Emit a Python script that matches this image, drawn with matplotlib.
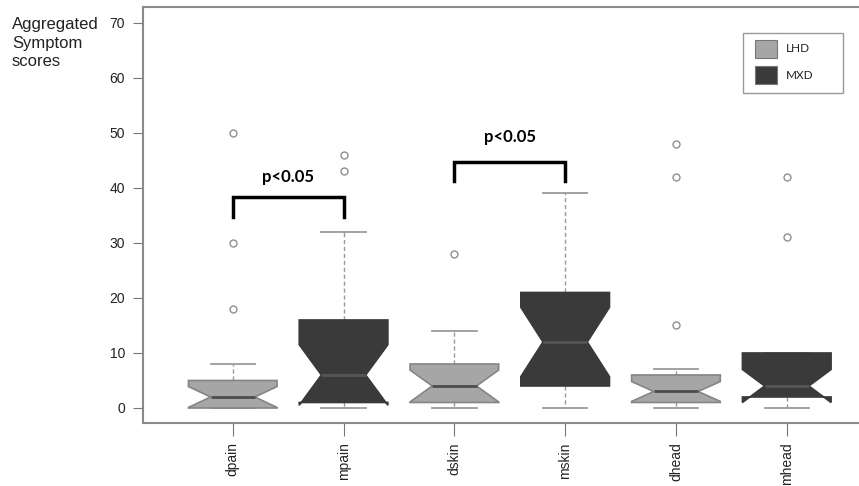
import matplotlib
matplotlib.use("Agg")
import matplotlib.pyplot as plt
from matplotlib.patches import Rectangle

# Symptom groups (LHD / MXD alternating)
labels = ["dpain", "mpain", "dskin", "mskin", "dhead", "mhead"]
groups = ["LHD", "MXD", "LHD", "MXD", "LHD", "MXD"]

# box statistics
whislo = [0, 0, 0, 0, 0, 0]
q1 = [0, 1, 1, 4, 1, 2]
med = [2, 6, 4, 12, 3, 4]
q3 = [5, 16, 8, 21, 6, 10]
whishi = [8, 32, 14, 39, 7, 10]
cilo = [0.1, 0.5, 1.1, 5.7, 1.2, 1.0]
cihi = [3.9, 11.5, 6.9, 18.3, 4.8, 7.0]
fliers = [[18, 30, 50], [43, 46], [28], [], [15, 42, 48], [31, 42]]

# significance brackets: (left box, right box, bracket top, text y)
brackets = [(1, 2, 38.3, 42.0), (3, 4, 44.7, 49.3)]
sig_text = "p<0.05"

face = {"LHD": "#a6a6a6", "MXD": "#3a3a3a"}
edge = {"LHD": "#858585", "MXD": "#3a3a3a"}
medc = {"LHD": "#4d4d4d", "MXD": "#555555"}

plt.rcParams["font.family"] = ["Liberation Sans", "DejaVu Sans"]

fig = plt.figure(figsize=(8.59, 4.86), dpi=100)
ax = fig.add_axes([143 / 859, 1 - 423 / 486, 1 - 143 / 859, (423 - 7) / 486])

stats = []
for i in range(len(labels)):
    stats.append(dict(whislo=whislo[i], q1=q1[i], med=med[i], q3=q3[i],
                      whishi=whishi[i], cilo=cilo[i], cihi=cihi[i],
                      fliers=fliers[i], label=labels[i]))

for i, s in enumerate(stats):
    g = groups[i]
    ax.bxp([s], positions=[i + 1], widths=0.8, shownotches=True, patch_artist=True,
           manage_ticks=False,
           boxprops=dict(facecolor=face[g], edgecolor=edge[g], linewidth=1.2, zorder=3),
           medianprops=dict(color=medc[g], linewidth=2, zorder=4),
           whiskerprops=dict(color="#9a9a9a", linestyle=(0, (3, 2)), linewidth=1, zorder=1.5),
           capprops=dict(color="#9a9a9a", linewidth=1.3, zorder=1.5),
           flierprops=dict(marker="o", markerfacecolor="none",
                           markeredgecolor="#8f8f8f", markersize=5, markeredgewidth=1))

for a, b, top, ty in brackets:
    ax.plot([a, a, b, b], [top - 3.5, top, top, top - 3.5], color="black", lw=2.5,
            solid_joinstyle="miter", zorder=5)
    ax.text((a + b) / 2, ty, sig_text, ha="center", va="center", fontsize=12,
            fontweight="bold", family=["Lato", "DejaVu Sans"])

ax.set_xlim(0.19, 6.652)
ax.set_ylim(-2.73, 72.9)
ax.set_xticks(range(1, len(labels) + 1))
ax.set_xticklabels(labels, rotation=90, fontsize=10, color="#222222")
ax.set_yticks(range(0, 71, 10))
ax.tick_params(axis="y", labelsize=10, length=7, pad=6, color="#777777", labelcolor="#222222")
ax.tick_params(axis="x", length=9, pad=5, color="#777777")
ax.spines["right"].set_visible(False)
for sp in ["left", "bottom", "top"]:
    ax.spines[sp].set_color("#8a8a8a")
    ax.spines[sp].set_linewidth(1.5)

fig.text(12 / 859, 1 - 17 / 486, "Aggregated\nSymptom\nscores", ha="left", va="top",
         fontsize=12, linespacing=1.3, color="#222222")

# legend box drawn in pixel positions
def px(x, y):
    return x / 859, 1 - y / 486

fig.add_artist(Rectangle(px(743, 93), 100 / 859, 60 / 486, transform=fig.transFigure,
                         facecolor="white", edgecolor="#9a9a9a", lw=1))
for j, g in enumerate(["LHD", "MXD"]):
    yc = 49 + j * 26.5
    fig.add_artist(Rectangle(px(755, yc + 9), 22 / 859, 18 / 486, transform=fig.transFigure,
                             facecolor=face[g], edgecolor="#777777", lw=0.8))
    fig.text(*px(786, yc), g, ha="left", va="center", fontsize=8.5,
             family=["Lato", "DejaVu Sans"], color="#222222")

fig.savefig("out.png", dpi=100)
